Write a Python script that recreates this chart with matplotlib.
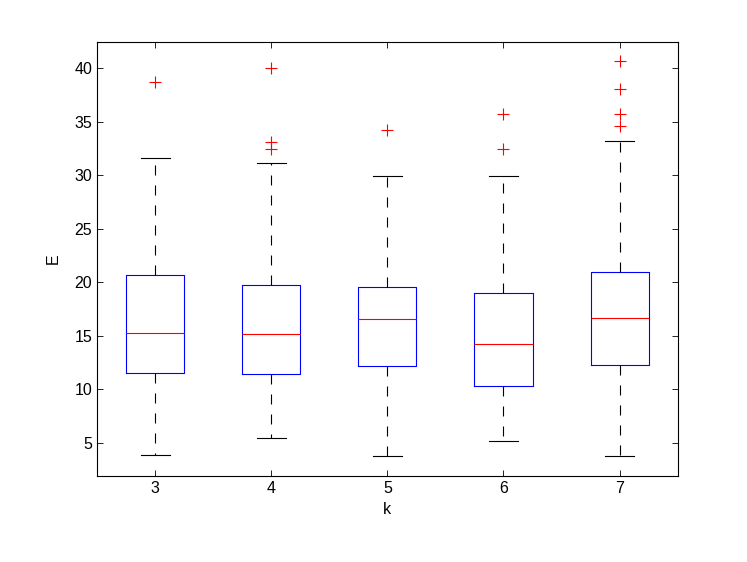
import numpy as np
import matplotlib as mpl
mpl.use("Agg")
import matplotlib.pyplot as plt

mpl.rcParams.update({"font.family": ["Liberation Sans", "DejaVu Sans"], "font.size": 11.5})

# box statistics (k = 3..7)
ks = [3, 4, 5, 6, 7]
q1 = [11.47, 11.41, 12.15, 10.26, 12.25]
med = [15.27, 15.18, 16.55, 14.18, 16.64]
q3 = [20.64, 19.70, 19.58, 19.01, 20.92]
wlo = [3.80, 5.42, 3.77, 5.14, 3.74]
whi = [31.58, 31.18, 29.93, 29.93, 33.17]
outliers = [[38.75], [40.0, 33.14, 32.42], [34.23], [35.73, 32.42],
            [40.65, 38.03, 35.78, 34.66]]

stats = [dict(med=m, q1=a, q3=b, whislo=lo, whishi=hi, fliers=f, label=str(k))
         for k, m, a, b, lo, hi, f in zip(ks, med, q1, q3, wlo, whi, outliers)]

fig = plt.figure(figsize=(7.47, 5.62), dpi=100)
ax = fig.add_axes([0.1299, 0.1536, 0.9072 - 0.1299, 0.9258 - 0.1536])
ax.bxp(stats, positions=range(1, len(ks) + 1), widths=0.5,
       boxprops=dict(color="#0000ff", lw=0.8),
       medianprops=dict(color="#ff0000", lw=0.8),
       whiskerprops=dict(color="k", lw=0.8, linestyle=(0, (9, 9))),
       capprops=dict(color="k", lw=0.8),
       capwidths=0.25,
       flierprops=dict(marker="+", markeredgecolor="#ff0000", markersize=8, markeredgewidth=0.8))
ax.set_xlim(0.5, 5.5)
ax.set_ylim(1.9, 42.5)
ax.set_yticks([5, 10, 15, 20, 25, 30, 35, 40])
ax.tick_params(direction="in", length=4.3, width=0.6, top=True, right=True)
for s in ax.spines.values():
    s.set_linewidth(0.8)
ax.set_xlabel("k", labelpad=5)
ax.set_ylabel("E", labelpad=10)
fig.savefig("out.png", dpi=100)
